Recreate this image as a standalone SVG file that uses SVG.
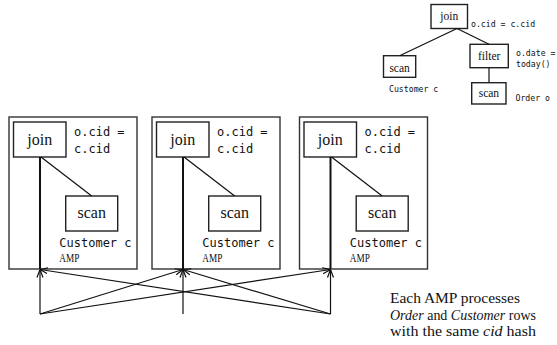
<svg xmlns="http://www.w3.org/2000/svg" width="557" height="345" viewBox="0 0 557 345">
<style>
.box{fill:none;stroke:#222;stroke-width:1.4}
.amp{fill:none;stroke:#333;stroke-width:1.4}
.edge{fill:none;stroke:#111;stroke-width:1.2}
.thick{fill:none;stroke:#111;stroke-width:2}
.serif{font-family:"Liberation Serif",serif;fill:#111}
.mono{font-family:"DejaVu Sans Mono","Liberation Mono",monospace;fill:#111}
.big{font-size:16px}
.small{font-size:11.5px}
.m12{font-size:12px}
.m8{font-size:8.2px}
.ampl{font-size:11.5px}
</style>
<defs>
<marker id="arr" viewBox="0 0 8 8" refX="8" refY="4" markerWidth="8" markerHeight="8" markerUnits="userSpaceOnUse" orient="auto">
<path d="M0,1 L8,4 L0,7" fill="none" stroke="#111" stroke-width="1.2"/>
</marker>
</defs>
<rect width="557" height="345" fill="#fff"/>

<!-- top tree -->
<g id="tree">
<g id="t-join"><rect class="box" x="431" y="4.5" width="36.5" height="24"/><text class="serif small" x="449.3" y="19.5" text-anchor="middle">join</text>
<text class="mono m8" x="471" y="26.5">o.cid = c.cid</text></g>
<g id="t-scan-c"><rect class="box" x="383.5" y="55.7" width="32.2" height="21.6"/><text class="serif small" x="399.6" y="71.5" text-anchor="middle">scan</text>
<text class="mono m8" x="389" y="91.5">Customer c</text></g>
<g id="t-filter"><rect class="box" x="470" y="44.3" width="38.3" height="23.4"/><text class="serif small" x="489.2" y="59.5" text-anchor="middle">filter</text>
<text class="mono m8" x="516" y="56">o.date =</text><text class="mono m8" x="516" y="66.5">today()</text></g>
<g id="t-scan-o"><rect class="box" x="471.7" y="82.7" width="34.3" height="21.3"/><text class="serif small" x="488.9" y="96.7" text-anchor="middle">scan</text>
<text class="mono m8" x="515.5" y="100.5">Order o</text></g>
<g id="t-edges">
<line class="edge" x1="457" y1="28.5" x2="399.6" y2="55.7"/>
<line class="edge" x1="457" y1="28.5" x2="489" y2="44.3"/>
<line class="edge" x1="489" y1="67.7" x2="489" y2="82.7"/>
</g>
</g>

<!-- AMP 1 -->
<g id="amp1">
<rect class="amp" x="9" y="117" width="128" height="152"/>
<rect class="box" x="13.5" y="122" width="52.5" height="35"/>
<text class="serif big" x="39.7" y="144.5" text-anchor="middle">join</text>
<text class="mono m12" x="74" y="135.5">o.cid =</text>
<text class="mono m12" x="74" y="153">c.cid</text>
<rect class="box" x="65.7" y="196" width="52" height="35"/>
<text class="serif big" x="91.7" y="218" text-anchor="middle">scan</text>
<text class="mono m12" x="59.3" y="247">Customer c</text>
<text class="serif ampl" x="59.3" y="261.7" textLength="20" lengthAdjust="spacingAndGlyphs">AMP</text>
<line class="edge" x1="41" y1="157" x2="91.7" y2="196"/>
<line class="thick" x1="40" y1="157" x2="40" y2="269"/>
</g>

<!-- AMP 2 -->
<g id="amp2" transform="translate(143,0)">
<rect class="amp" x="9" y="117" width="128" height="152"/>
<rect class="box" x="13.5" y="122" width="52.5" height="35"/>
<text class="serif big" x="39.7" y="144.5" text-anchor="middle">join</text>
<text class="mono m12" x="74" y="135.5">o.cid =</text>
<text class="mono m12" x="74" y="153">c.cid</text>
<rect class="box" x="65.7" y="196" width="52" height="35"/>
<text class="serif big" x="91.7" y="218" text-anchor="middle">scan</text>
<text class="mono m12" x="59.3" y="247">Customer c</text>
<text class="serif ampl" x="59.3" y="261.7" textLength="20" lengthAdjust="spacingAndGlyphs">AMP</text>
<line class="edge" x1="41" y1="157" x2="91.7" y2="196"/>
<line class="thick" x1="40" y1="157" x2="40" y2="269"/>
</g>

<!-- AMP 3 -->
<g id="amp3" transform="translate(290.5,0)">
<rect class="amp" x="9" y="117" width="128" height="152"/>
<rect class="box" x="13.5" y="122" width="52.5" height="35"/>
<text class="serif big" x="39.7" y="144.5" text-anchor="middle">join</text>
<text class="mono m12" x="74" y="135.5">o.cid =</text>
<text class="mono m12" x="74" y="153">c.cid</text>
<rect class="box" x="65.7" y="196" width="52" height="35"/>
<text class="serif big" x="91.7" y="218" text-anchor="middle">scan</text>
<text class="mono m12" x="59.3" y="247">Customer c</text>
<text class="serif ampl" x="59.3" y="261.7" textLength="20" lengthAdjust="spacingAndGlyphs">AMP</text>
<line class="edge" x1="41" y1="157" x2="91.7" y2="196"/>
<line class="thick" x1="40" y1="157" x2="40" y2="269"/>
</g>

<!-- redistribution connectors -->
<g id="connectors">
<line class="edge" x1="40" y1="314" x2="40" y2="269.5" marker-end="url(#arr)"/>
<line class="edge" x1="40" y1="314" x2="183" y2="269.5" marker-end="url(#arr)"/>
<line class="edge" x1="40" y1="314" x2="330.5" y2="269.5" marker-end="url(#arr)"/>
<line class="edge" x1="183" y1="314" x2="183" y2="269.5" marker-end="url(#arr)"/>
<line class="edge" x1="330.5" y1="314" x2="330.5" y2="269.5" marker-end="url(#arr)"/>
<line class="edge" x1="330.5" y1="314" x2="183" y2="269.5" marker-end="url(#arr)"/>
<line class="edge" x1="330.5" y1="314" x2="40" y2="269.5" marker-end="url(#arr)"/>
</g>

<g id="caption">
<text class="serif" font-size="14.5" x="390" y="303.3" textLength="130" lengthAdjust="spacingAndGlyphs">Each AMP processes</text>
<text class="serif" font-size="14.5" x="390" y="319.8" textLength="146" lengthAdjust="spacingAndGlyphs"><tspan font-style="italic">Order</tspan> and <tspan font-style="italic">Customer</tspan> rows</text>
<text class="serif" font-size="14.5" x="390" y="336" textLength="146" lengthAdjust="spacingAndGlyphs">with the same <tspan font-style="italic">cid</tspan> hash</text>
</g>
</svg>
